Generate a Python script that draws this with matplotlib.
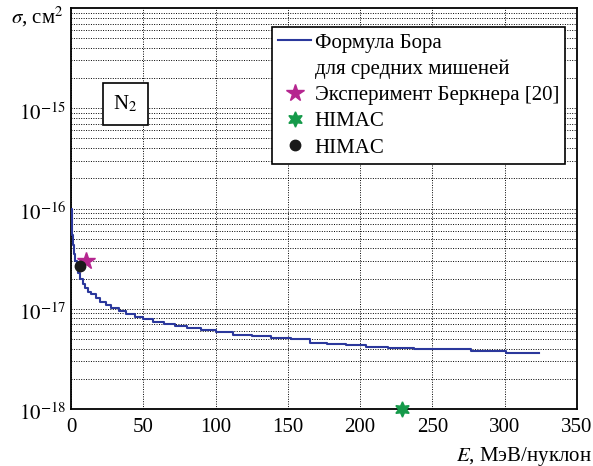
import matplotlib
matplotlib.use("Agg")
import matplotlib.pyplot as plt
import matplotlib.transforms as mtransforms
from matplotlib.lines import Line2D

plt.rcParams['font.family'] = ['Liberation Serif', 'DejaVu Serif']
plt.rcParams['mathtext.fontset'] = 'stix'

# Bohr formula curve (staircase as in the picture)
bohr_E = [0, 0.4, 1.0, 1.5, 2.2, 3, 4, 5, 6, 8, 10, 12, 14, 17, 20, 24, 28, 33, 38,
          44, 50, 57, 64, 72, 80, 90, 100, 112, 125, 138, 152, 165, 177, 190, 204,
          219, 237, 256, 277, 301, 324]
bohr_sigma = [1.0e-16, 7.0e-17, 5.5e-17, 4.3e-17, 3.5e-17, 3.0e-17, 2.6e-17, 2.25e-17,
              2.0e-17, 1.77e-17, 1.6e-17, 1.48e-17, 1.39e-17, 1.28e-17, 1.18e-17,
              1.09e-17, 1.02e-17, 9.5e-18, 8.9e-18, 8.35e-18, 7.9e-18, 7.45e-18,
              7.1e-18, 6.7e-18, 6.4e-18, 6.1e-18, 5.8e-18, 5.5e-18, 5.3e-18, 5.1e-18,
              4.95e-18, 4.6e-18, 4.45e-18, 4.35e-18, 4.2e-18, 4.07e-18, 4.0e-18,
              3.95e-18, 3.8e-18, 3.63e-18, 3.63e-18]

berkner_E = [10.2]
berkner_sigma = [3.0e-17]
himac1_E = [228.7]
himac1_sigma = [1.0e-18]
himac2_E = [6.2]
himac2_sigma = [2.65e-17]

xticks = [0, 50, 100, 150, 200, 250, 300, 350]
yticks = [1e-18, 1e-17, 1e-16, 1e-15]
ytick_labels = [r'$10^{-18}$', r'$10^{-17}$', r'$10^{-16}$', r'$10^{-15}$']

FS = 15

fig = plt.figure(figsize=(5.93, 4.66), dpi=100)
ax = fig.add_axes([71/593, 1-409/466, (577-71)/593, (409-8)/466])

ax.set_yscale('log')
ax.set_xlim(0, 350)
ax.set_ylim(1e-18, 1e-14)

ax.plot(bohr_E, bohr_sigma, drawstyle='steps-post', color='#2b389c', lw=1.5, zorder=3)
ax.plot(berkner_E, berkner_sigma, linestyle='none', marker='*', ms=13,
        color='#b5268f', zorder=4, clip_on=False)
ax.plot(himac1_E, himac1_sigma, linestyle='none', marker=(6, 1, 0), ms=11,
        color='#159a4a', zorder=4, clip_on=False)
ax.plot(himac2_E, himac2_sigma, linestyle='none', marker='o', ms=7.5,
        color='#1a1a1a', zorder=5, clip_on=False)

ax.set_xticks(xticks)
ax.set_xticklabels([str(v) for v in xticks])
ax.set_yticks(yticks)
ax.set_yticklabels(ytick_labels)
ax.tick_params(axis='both', which='both', length=0, labelsize=FS)
ax.tick_params(axis='y', pad=3.5)
ax.tick_params(axis='x', pad=6.5)
offset = mtransforms.ScaledTranslation(0, -3/100, fig.dpi_scale_trans)
for lab in ax.get_yticklabels():
    lab.set_transform(lab.get_transform() + offset)
ax.grid(True, which='major', axis='x', color='black', linestyle=(0, (1, 1.5)), lw=0.7)
ax.grid(True, which='both', axis='y', color='black', linestyle=(0, (1, 1.5)), lw=0.7)
for s in ax.spines.values():
    s.set_linewidth(1.3)

fig.text(0.018, 1-17/466, r'$\sigma$, см$^2$', fontsize=FS, va='center', ha='left')
fig.text(0.998, 1-456/466, r'$E$, МэВ/нуклон', fontsize=FS, va='center', ha='right')

ax.text(0.108, 0.761, r'N$_2$', transform=ax.transAxes, fontsize=FS,
        va='center', ha='center',
        bbox=dict(boxstyle='square,pad=0.5', fc='white', ec='black', lw=1.2))

handles = [
    Line2D([], [], color='#2b389c', lw=1.5),
    Line2D([], [], linestyle='none'),
    Line2D([], [], linestyle='none', marker='*', ms=13, color='#b5268f'),
    Line2D([], [], linestyle='none', marker=(6, 1, 0), ms=11, color='#159a4a'),
    Line2D([], [], linestyle='none', marker='o', ms=7.5, color='#1a1a1a'),
]
labels = ['Формула Бора', 'для средних мишеней', 'Эксперимент Беркнера [20]',
          'HIMAC', 'HIMAC']
leg = ax.legend(handles, labels, loc='upper left', bbox_to_anchor=(0.397, 0.953),
                fontsize=FS, frameon=True, fancybox=False, edgecolor='black',
                framealpha=1, handlelength=1.6, handletextpad=0.15, labelspacing=0.32,
                borderpad=0.3, borderaxespad=0)
leg.get_frame().set_linewidth(1.2)

fig.savefig('out.png', dpi=100)
